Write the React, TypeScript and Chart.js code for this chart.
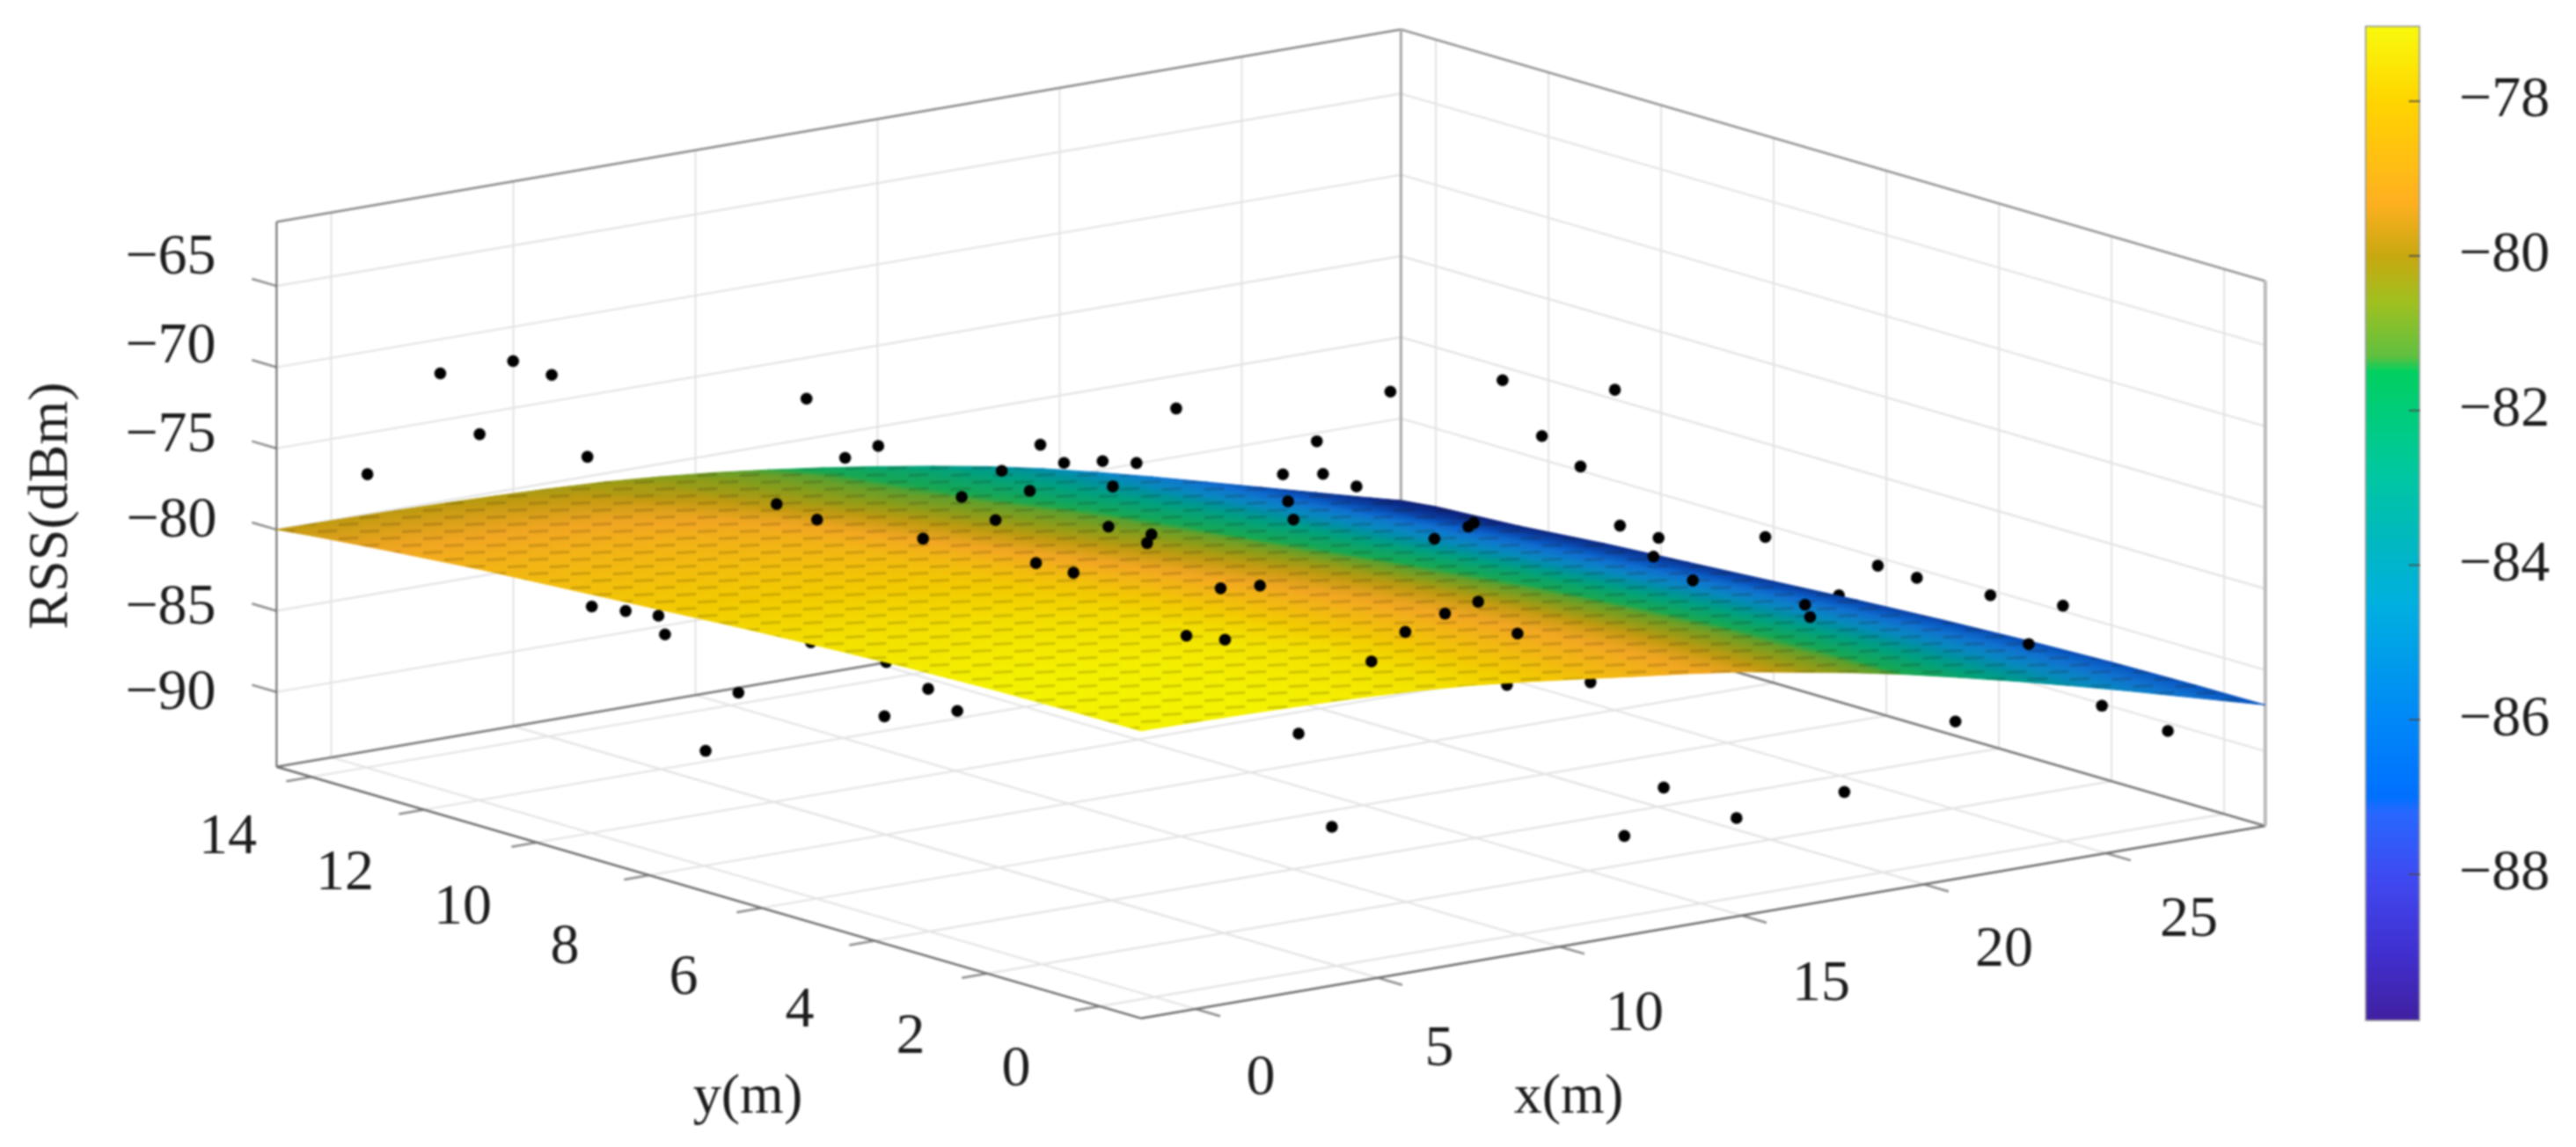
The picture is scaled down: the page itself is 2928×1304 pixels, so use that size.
import { useEffect, useRef } from "react";
import { Chart, registerables } from "chart.js";

Chart.register(...registerables);

// ---- axis ticks and limits (data units) ----
const xTicks = [0, 5, 10, 15, 20, 25];
const yTicks = [0, 2, 4, 6, 8, 10, 12, 14];
const zTicks = [-65, -70, -75, -80, -85, -90];
const colorbarTicks = [-78, -80, -82, -84, -86, -88];
const xLimits = [-1.5, 29.37];
const yLimits = [-0.73, 14.62];
const zLimits = [-94.6, -61.05];
const colorbarLimits = [-89.9, -77.02];

// ---- fitted surface ----
const surfaceX = [-1.5, 0, 1.5, 3, 4.5, 6, 7.5, 9, 10.5, 12, 13.5, 15, 16.5, 18, 19.5, 21, 22.5, 24, 25.5, 27, 28.5, 29.37];
const surfaceY = [-0.73, 0.5, 2, 3.5, 5, 6.5, 8, 9.5, 11, 12.5, 14, 14.62];
const surfaceRSS = [
  [-76.9, -76.93, -76.98, -77.06, -77.17, -77.33, -77.57, -77.92, -78.32, -78.74, -79.14, -79.6, -80.2, -80.8, -81.48, -82.25, -83.05, -83.9, -84.78, -85.7, -86.62, -87.15],
  [-76.93, -76.96, -77.01, -77.08, -77.19, -77.34, -77.59, -77.95, -78.35, -78.77, -79.17, -79.63, -80.23, -80.83, -81.51, -82.28, -83.08, -83.93, -84.81, -85.73, -86.65, -87.18],
  [-77.02, -77.04, -77.07, -77.12, -77.22, -77.35, -77.64, -78.04, -78.44, -78.86, -79.26, -79.72, -80.32, -80.92, -81.6, -82.37, -83.17, -84.02, -84.9, -85.82, -86.74, -87.27],
  [-77.2, -77.22, -77.25, -77.3, -77.4, -77.53, -77.82, -78.22, -78.62, -79.04, -79.44, -79.9, -80.5, -81.1, -81.78, -82.55, -83.35, -84.2, -85.08, -86, -86.92, -87.45],
  [-77.45, -77.47, -77.5, -77.55, -77.65, -77.78, -78.07, -78.47, -78.87, -79.29, -79.69, -80.15, -80.75, -81.35, -82.03, -82.8, -83.6, -84.45, -85.33, -86.25, -87.17, -87.7],
  [-77.75, -77.77, -77.8, -77.85, -77.95, -78.08, -78.37, -78.77, -79.17, -79.59, -79.99, -80.45, -81.05, -81.65, -82.33, -83.1, -83.9, -84.75, -85.63, -86.55, -87.47, -88],
  [-78.1, -78.12, -78.15, -78.2, -78.3, -78.43, -78.72, -79.12, -79.52, -79.94, -80.34, -80.8, -81.4, -82, -82.68, -83.45, -84.25, -85.1, -85.98, -86.9, -87.82, -88.35],
  [-78.45, -78.47, -78.5, -78.55, -78.65, -78.78, -79.07, -79.47, -79.87, -80.29, -80.69, -81.15, -81.75, -82.35, -83.03, -83.8, -84.6, -85.45, -86.33, -87.25, -88.17, -88.7],
  [-78.8, -78.82, -78.85, -78.9, -79, -79.13, -79.42, -79.82, -80.22, -80.64, -81.04, -81.5, -82.1, -82.7, -83.38, -84.15, -84.95, -85.8, -86.68, -87.6, -88.52, -89.05],
  [-79.25, -79.27, -79.3, -79.35, -79.45, -79.58, -79.87, -80.22, -80.58, -80.98, -81.42, -81.9, -82.45, -83.05, -83.75, -84.55, -85.35, -86.25, -87.13, -88.05, -88.97, -89.5],
  [-79.75, -79.78, -79.82, -79.89, -79.98, -80.11, -80.27, -80.53, -80.85, -81.25, -81.7, -82.2, -82.75, -83.35, -84.05, -84.85, -85.7, -86.6, -87.5, -88.4, -89.3, -89.8],
  [-80, -80.03, -80.07, -80.14, -80.23, -80.36, -80.52, -80.78, -81.1, -81.5, -81.95, -82.45, -83, -83.6, -84.3, -85.1, -85.95, -86.85, -87.75, -88.65, -89.55, -90.05],
];

// ---- measurements in front of the surface ----
const frontX = [-1.51, 0.49, 2.49, 3.55, 1.57, 4.53, 4.65, 5.58, 6.48, 6.66, -1.5, -0.6, 1.27, 2.33, 0.45, 1.56, 4.61, 3.41, 5.41, 7.57, 8.6, 12.64, 13.72, 11.7, 12.76, 16.78, 17.71, 18.8, 19.71, 20.79, 14.78, 9.51, 3.24, 4.47, 5.53, 6.46, 6.63, 7.4, 7.69, 8.34, 9.4, 10.33, 9.68, 9.56, 10.74, 10.62, 11.42, 14.35, 15.45, 15.28, 16.37, 14.49, 14.64, 17.3, 18.51, 19.44, 19.59, 20.38, 21.46, 22.52, 17.28, 17.42, 18.48, 18.34, 19.42, 21.41, 24.5, 25.57, 27.59, 22.5, 22.64, 18.62, 17.54, 20.62, 23.58, 26.63, 26.49, 25.55, 27.56, 29.37];
const frontY = [13, 13, 13, 13, 13, 13, 13, 13, 13, 13, 7, 7, 7, 7, 7, 7, 7, 7, 7, 7, 7, 7, 7, 7, 7, 7, 7, 7, 7, 7, 7, 3, 7, 7, 7, 7, 7, 7, 7, 7, 7, 7, 7, 7, 7, 7, 7, 7, 7, 7, 7, 7, 7, 7, 7, 7, 7, 7, 7, 7, 3, 3, 3, 3, 3, 3, 3, 3, 3, 3, 3, 3, 3, 3, 3, 3, 1, 1, 1, 1];
const frontRSS = [-74.95, -69.51, -69.52, -70.78, -73.67, -76.2, -85.46, -86.09, -86.73, -87.95, -85.93, -82.7, -65.31, -69.36, -71.48, -72.87, -84.46, -85.69, -86.13, -77.85, -78.84, -81.35, -81.6, -83.91, -84.56, -87.44, -85.98, -85.27, -84.89, -87.26, -91.12, -90.8, -68.98, -75.16, -73, -74.78, -71.81, -73.34, -70.61, -71.98, -72.28, -72.75, -73.95, -76.37, -77.3, -77.79, -69.81, -74.99, -75.38, -73.31, -76.51, -76.71, -77.89, -71.03, -80.55, -80.16, -80, -71.51, -75.36, -77.64, -66.87, -75.29, -76.45, -77.55, -79.43, -77.52, -80.47, -81.63, -83.48, -82.11, -82.92, -91.88, -94.44, -94.52, -94.05, -90.88, -81.68, -83.68, -88.25, -90.5];

// ---- measurements partly hidden behind the surface ----
const behindX = [1.39, 3.46, 20.5, 16.61, 23.43];
const behindY = [7, 7, 7, 3, 3];
const behindRSS = [-80.36, -82.37, -90.32, -84.62, -81.88];

// ---- colour maps (RSS value -> colour); the surface renders darker than the bar ----
const colormapRSS = [-77.02, -78, -79.3, -80, -80.6, -81.3, -81.5, -82.8, -83.7, -84.5, -86, -87, -87.2, -88.1, -89, -89.9];
const colorbarHex = ["#f8fa0d", "#ffd500", "#ffb020", "#c8a810", "#a0c020", "#60c040", "#00d060", "#00c8a0", "#00b8c0", "#00b0e0", "#0088f8", "#0070ff", "#2868ff", "#4048f0", "#4030d0", "#4020a0"];
const surfaceHex = ["#f4f200", "#f2cb00", "#f2a622", "#c09a10", "#8f9c18", "#58a030", "#18a850", "#00a080", "#0090a0", "#0888c0", "#1070d0", "#0858c0", "#0a50b8", "#0a3c9c", "#0a2a88", "#101c70"];

const WIDTH = 2928;
const HEIGHT = 1304;
const SERIF = "'Liberation Serif', serif";
const TICK_FONT = `66px ${SERIF}`;
const LABEL_FONT = `64px ${SERIF}`;
const TEXT = "#1c1c1c";

// screen layout of the 3-D box, and of its text
const FRONT_CORNER = { x: 1296, y: 1163 };
const X_EDGE = { x: 1284, y: -221 };
const Y_EDGE = { x: -987, y: -289 };
const Z_EDGE = -626;
const zLabelAt = [[194, 294], [194, 395], [194, 496], [195, 593], [194, 692], [194, 789]];
const yLabelAt = [[1155, 1217], [1035, 1180], [909, 1150], [777, 1113], [642, 1078], [526, 1033], [392, 994], [259, 953]];
const xLabelAt = [[1433, 1227], [1636, 1194], [1858, 1154], [2070, 1120], [2278, 1081], [2488, 1047]];

const BAR_LEFT = 2688;
const BAR_RIGHT = 2751;
const BAR_TOP = 29;
const BAR_BOTTOM = 1161;

function project(x: number, y: number, z: number) {
  const tx = (x - xLimits[0]) / (xLimits[1] - xLimits[0]);
  const ty = (y - yLimits[0]) / (yLimits[1] - yLimits[0]);
  const tz = (z - zLimits[0]) / (zLimits[1] - zLimits[0]);
  return {
    x: FRONT_CORNER.x + tx * X_EDGE.x + ty * Y_EDGE.x,
    y: FRONT_CORNER.y + tx * X_EDGE.y + ty * Y_EDGE.y + tz * Z_EDGE,
  };
}

function hexRgb(h: string) {
  return [parseInt(h.slice(1, 3), 16), parseInt(h.slice(3, 5), 16), parseInt(h.slice(5, 7), 16)];
}

function rssColor(v: number) {
  if (v >= colormapRSS[0]) return surfaceHex[0];
  for (let i = 1; i < colormapRSS.length; i++) {
    if (v >= colormapRSS[i]) {
      const t = (colormapRSS[i - 1] - v) / (colormapRSS[i - 1] - colormapRSS[i]);
      const a = hexRgb(surfaceHex[i - 1]);
      const b = hexRgb(surfaceHex[i]);
      return `rgb(${a.map((c, k) => Math.round(c + (b[k] - c) * t)).join(",")})`;
    }
  }
  return surfaceHex[surfaceHex.length - 1];
}

function cellGradient(ctx: CanvasRenderingContext2D, i: number, j: number) {
  const z0 = surfaceRSS[j][i];
  const z1 = surfaceRSS[j][i + 1];
  const z2 = surfaceRSS[j + 1][i];
  const z3 = surfaceRSS[j + 1][i + 1];
  const p0 = project(surfaceX[i], surfaceY[j], z0);
  const p1 = project(surfaceX[i + 1], surfaceY[j], z1);
  const p2 = project(surfaceX[i], surfaceY[j + 1], z2);
  const ax = p1.x - p0.x, ay = p1.y - p0.y, bx = p2.x - p0.x, by = p2.y - p0.y;
  const da = z1 - z0, db = z2 - z0;
  const det = ax * by - ay * bx;
  const gx = (da * by - db * ay) / det;
  const gy = (ax * db - bx * da) / det;
  const n = gx * gx + gy * gy || 1;
  const lo = Math.min(z0, z1, z2, z3);
  const hi = Math.max(z0, z1, z2, z3);
  const g = ctx.createLinearGradient(
    p0.x + (gx * (lo - z0)) / n, p0.y + (gy * (lo - z0)) / n,
    p0.x + (gx * (hi - z0)) / n, p0.y + (gy * (hi - z0)) / n,
  );
  for (let s = 0; s <= 4; s++) g.addColorStop(s / 4, rssColor(lo + ((hi - lo) * s) / 4));
  return g;
}

function meshPattern(ctx: CanvasRenderingContext2D) {
  const tile = document.createElement("canvas");
  tile.width = 48;
  tile.height = 16;
  const t = tile.getContext("2d")!;
  t.strokeStyle = "rgba(30,20,0,0.17)";
  t.lineWidth = 3;
  t.lineCap = "round";
  t.beginPath();
  t.moveTo(2, 4.5); t.lineTo(22, 3.5);
  t.moveTo(26, 12.5); t.lineTo(46, 11.5);
  t.stroke();
  return ctx.createPattern(tile, "repeat");
}

function segment(a: number[], b: number[], color: string, width: number) {
  return {
    data: [project(a[0], a[1], a[2]), project(b[0], b[1], b[2])],
    showLine: true,
    borderColor: color,
    borderWidth: width,
    pointRadius: 0,
    clip: false,
  };
}

function buildDatasets(ctx: CanvasRenderingContext2D) {
  const [x0, x1] = xLimits;
  const [y0, y1] = yLimits;
  const [z0, z1] = zLimits;
  const sets: any[] = [];

  // first dataset is painted last
  sets.push({
    data: frontX.map((x, i) => project(x, frontY[i], frontRSS[i])),
    pointRadius: 6.8,
    pointBackgroundColor: "#000",
    pointBorderWidth: 0,
    showLine: false,
    clip: false,
  });

  const rows = surfaceY.length - 1;
  const cols = surfaceX.length - 1;
  const outline: any[] = [];
  for (let i = 0; i <= cols; i++) outline.push(project(surfaceX[i], surfaceY[0], surfaceRSS[0][i]));
  for (let j = 1; j <= rows; j++) outline.push(project(surfaceX[cols], surfaceY[j], surfaceRSS[j][cols]));
  for (let i = cols - 1; i >= 0; i--) outline.push(project(surfaceX[i], surfaceY[rows], surfaceRSS[rows][i]));
  for (let j = rows - 1; j >= 0; j--) outline.push(project(surfaceX[0], surfaceY[j], surfaceRSS[j][0]));
  sets.push({
    data: outline,
    showLine: true,
    fill: "shape",
    backgroundColor: meshPattern(ctx),
    borderWidth: 0,
    pointRadius: 0,
    clip: false,
  });

  for (let s = 0; s <= rows + cols - 2; s++) {
    for (let j = 0; j < rows; j++) {
      const i = s - j;
      if (i < 0 || i >= cols) continue;
      const g = cellGradient(ctx, i, j);
      sets.push({
        data: [
          project(surfaceX[i], surfaceY[j], surfaceRSS[j][i]),
          project(surfaceX[i + 1], surfaceY[j], surfaceRSS[j][i + 1]),
          project(surfaceX[i + 1], surfaceY[j + 1], surfaceRSS[j + 1][i + 1]),
          project(surfaceX[i], surfaceY[j + 1], surfaceRSS[j + 1][i]),
          project(surfaceX[i], surfaceY[j], surfaceRSS[j][i]),
        ],
        showLine: true,
        fill: "shape",
        backgroundColor: g,
        borderColor: g,
        borderWidth: 1,
        pointRadius: 0,
        clip: false,
      });
    }
  }

  sets.push({
    data: behindX.map((x, i) => project(x, behindY[i], behindRSS[i])),
    pointRadius: 6.8,
    pointBackgroundColor: "#000",
    pointBorderWidth: 0,
    showLine: false,
    clip: false,
  });

  // box edges
  const strong = "#6e6e6e";
  sets.push(segment([x0, y1, z0], [x0, y1, z1], "#666666", 2));
  sets.push(segment([x1, y1, z0], [x1, y1, z1], "#a8a8a8", 3));
  sets.push(segment([x1, y0, z0], [x1, y0, z1], "#bababa", 4));
  sets.push(segment([x0, y1, z1], [x1, y1, z1], "#8a8a8a", 2.5));
  sets.push(segment([x1, y1, z1], [x1, y0, z1], "#969696", 2.5));
  sets.push(segment([x0, y0, z0], [x0, y1, z0], strong, 2.5));
  sets.push(segment([x0, y0, z0], [x1, y0, z0], strong, 2.5));
  sets.push(segment([x0, y1, z0], [x1, y1, z0], "#777777", 2.5));
  sets.push(segment([x1, y1, z0], [x1, y0, z0], "#777777", 2.5));

  // tick marks
  const tickColor = "#8c8c8c";
  const yOut = (yLimits[1] - yLimits[0]) * 0.0285;
  const xOut = (xLimits[1] - xLimits[0]) * 0.0225;
  zTicks.forEach((z) => sets.push(segment([x0, y1, z], [x0, y1 + yOut, z], tickColor, 2.5)));
  xTicks.forEach((x) => sets.push(segment([x, y0, z0], [x, y0 - yOut, z0], tickColor, 2.5)));
  yTicks.forEach((y) => sets.push(segment([x0, y, z0], [x0 - xOut, y, z0], tickColor, 2.5)));

  // grid on the walls and floor
  const gridColor = "#e3e3e3";
  zTicks.forEach((z) => {
    sets.push(segment([x0, y1, z], [x1, y1, z], gridColor, 2.2));
    sets.push(segment([x1, y1, z], [x1, y0, z], gridColor, 2.2));
  });
  xTicks.forEach((x) => {
    sets.push(segment([x, y1, z0], [x, y1, z1], gridColor, 2));
    sets.push(segment([x, y0, z0], [x, y1, z0], gridColor, 2.2));
  });
  yTicks.forEach((y) => {
    sets.push(segment([x1, y, z0], [x1, y, z1], gridColor, 2));
    sets.push(segment([x0, y, z0], [x1, y, z0], gridColor, 2.2));
  });
  return sets;
}

const minus = (v: number) => (v < 0 ? `\u2212${Math.abs(v)}` : `${v}`);

const axisText = {
  id: "axisText",
  afterDatasetsDraw(chart: any) {
    const c = chart.ctx as CanvasRenderingContext2D;
    c.save();
    c.fillStyle = TEXT;
    c.font = TICK_FONT;
    c.textAlign = "center";
    c.textBaseline = "middle";
    zTicks.forEach((v, i) => c.fillText(minus(v), zLabelAt[i][0], zLabelAt[i][1]));
    yTicks.forEach((v, i) => c.fillText(`${v}`, yLabelAt[i][0], yLabelAt[i][1]));
    xTicks.forEach((v, i) => c.fillText(`${v}`, xLabelAt[i][0], xLabelAt[i][1]));
    c.font = LABEL_FONT;
    c.fillText("y(m)", 850, 1248);
    c.fillText("x(m)", 1783, 1248);
    c.translate(59, 575);
    c.rotate(-Math.PI / 2);
    c.fillText("RSS(dBm)", 0, 0);
    c.restore();
  },
};

const innerTicks = {
  id: "innerTicks",
  afterDatasetsDraw(chart: any) {
    const c = chart.ctx as CanvasRenderingContext2D;
    const scale = chart.scales.y;
    const right = chart.chartArea.right;
    c.save();
    c.strokeStyle = "#4a4a4a";
    c.lineWidth = 1.6;
    colorbarTicks.forEach((v) => {
      const y = scale.getPixelForValue(v);
      c.beginPath();
      c.moveTo(right - 13, y);
      c.lineTo(right, y);
      c.stroke();
    });
    c.restore();
  },
};

export default function App() {
  const mainRef = useRef<HTMLCanvasElement>(null);
  const barRef = useRef<HTMLCanvasElement>(null);

  useEffect(() => {
    const ctx = mainRef.current!.getContext("2d")!;
    const main = new Chart(ctx, {
      type: "scatter",
      data: { datasets: buildDatasets(ctx) },
      plugins: [axisText],
      options: {
        animation: false,
        responsive: false,
        events: [],
        layout: { padding: 0 },
        plugins: { legend: { display: false }, tooltip: { enabled: false } },
        scales: {
          x: { type: "linear", min: 0, max: WIDTH, display: false },
          y: { type: "linear", min: 0, max: HEIGHT, reverse: true, display: false },
        },
      },
    } as any);

    const barCtx = barRef.current!.getContext("2d")!;
    const span = colorbarLimits[1] - colorbarLimits[0];
    const gradient = barCtx.createLinearGradient(0, BAR_TOP, 0, BAR_BOTTOM);
    colormapRSS.forEach((v, i) => gradient.addColorStop(Math.min(1, (colorbarLimits[1] - v) / span), colorbarHex[i]));
    const bar = new Chart(barCtx, {
      type: "bar",
      data: {
        labels: ["RSS"],
        datasets: [{
          data: [[colorbarLimits[0], colorbarLimits[1]]],
          backgroundColor: gradient,
          borderColor: "#a0a0a0",
          borderWidth: 2,
          borderSkipped: false,
          barPercentage: 1,
          categoryPercentage: 1,
        }],
      },
      plugins: [innerTicks],
      options: {
        animation: false,
        responsive: false,
        events: [],
        layout: { padding: { top: BAR_TOP, bottom: HEIGHT - BAR_BOTTOM, left: 0, right: 0 } },
        plugins: { legend: { display: false }, tooltip: { enabled: false } },
        scales: {
          x: { display: false },
          y: {
            position: "right",
            min: colorbarLimits[0],
            max: colorbarLimits[1],
            grid: { display: false },
            border: { display: false },
            afterBuildTicks: (s: any) => { s.ticks = colorbarTicks.map((value) => ({ value })); },
            afterFit: (s: any) => { s.width = WIDTH - BAR_RIGHT; s.paddingTop = 0; s.paddingBottom = 0; },
            ticks: {
              padding: 36,
              color: TEXT,
              font: { family: SERIF, size: 66 },
              callback: (v: any) => minus(Number(v)),
            },
          },
        },
      },
    } as any);

    return () => {
      main.destroy();
      bar.destroy();
    };
  }, []);

  const common: any = { position: "absolute", top: 0, display: "block", filter: "blur(0.9px)" };
  return (
    <div>
      <canvas ref={mainRef} width={WIDTH} height={HEIGHT} style={{ ...common, left: 0 }} />
      <canvas ref={barRef} width={WIDTH - BAR_LEFT} height={HEIGHT} style={{ ...common, left: BAR_LEFT }} />
    </div>
  );
}
